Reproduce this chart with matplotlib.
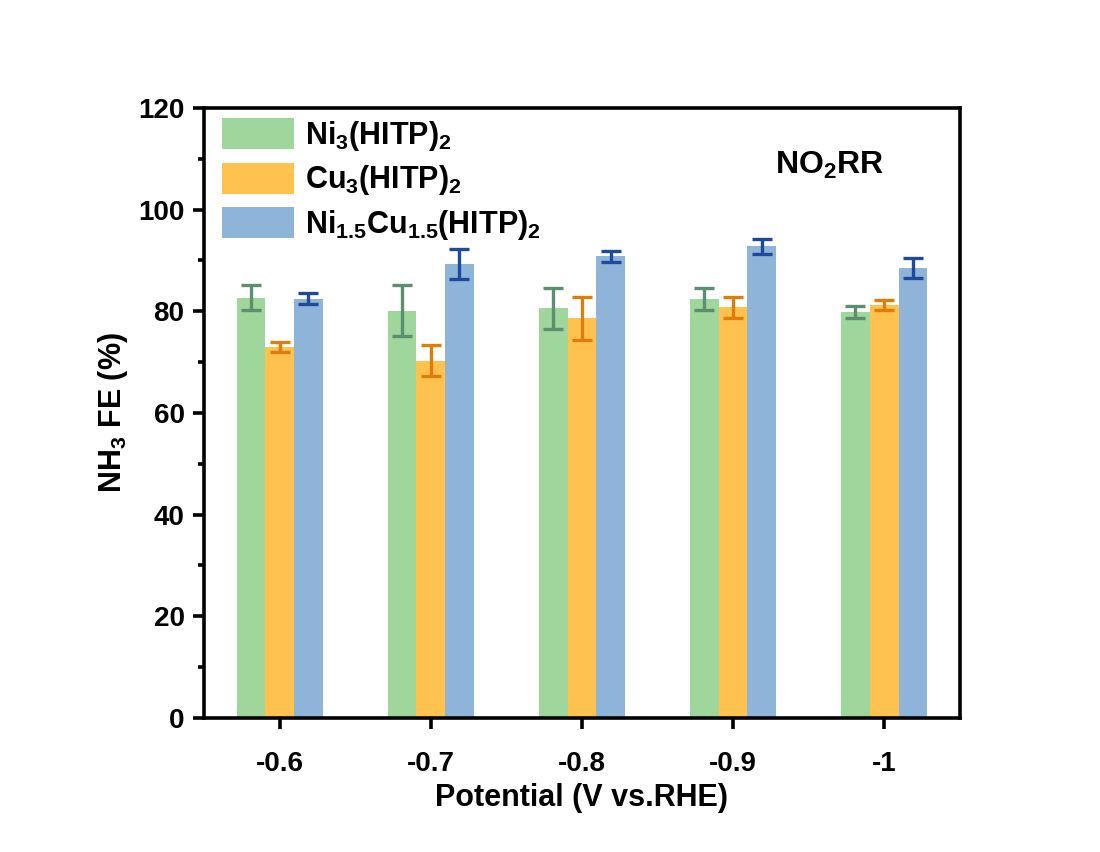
import numpy as np
import matplotlib
matplotlib.use("Agg")
import matplotlib.pyplot as plt

plt.rcParams['font.family'] = ['Liberation Sans', 'DejaVu Sans']
plt.rcParams['font.weight'] = 'bold'
plt.rcParams['mathtext.fontset'] = 'custom'
plt.rcParams['mathtext.rm'] = 'Liberation Sans:bold'
plt.rcParams['mathtext.default'] = 'rm'

# Données
potentials = ["-0.6", "-0.7", "-0.8", "-0.9", "-1"]
ni_fe = [82.7, 80.1, 80.6, 82.4, 79.8]
ni_err = [2.5, 5.0, 4.0, 2.1, 1.2]
cu_fe = [72.9, 70.3, 78.6, 80.8, 81.2]
cu_err = [1.0, 3.0, 4.2, 2.1, 1.0]
nicu_fe = [82.5, 89.3, 90.8, 92.8, 88.5]
nicu_err = [1.0, 2.9, 1.1, 1.5, 2.0]

labels = ["Ni$_3$(HITP)$_2$", "Cu$_3$(HITP)$_2$", "Ni$_{1.5}$Cu$_{1.5}$(HITP)$_2$"]
bar_colors = ["#9fd69c", "#ffc24f", "#8fb4da"]
err_colors = ["#5b8f6f", "#e07d0a", "#1f4a9c"]

fig = plt.figure(figsize=(11, 8.52), dpi=100)
ax = fig.add_axes([0.1855, 0.1573, 0.687, 0.716])

x = np.arange(len(potentials))
w = 0.19
series = [(ni_fe, ni_err), (cu_fe, cu_err), (nicu_fe, nicu_err)]
for i, (vals, errs) in enumerate(series):
    pos = x + (i - 1) * w
    ax.bar(pos, vals, width=w, color=bar_colors[i], label=labels[i], zorder=2)
    ax.errorbar(pos, vals, yerr=errs, fmt='none', ecolor=err_colors[i],
                elinewidth=2.4, capsize=7, capthick=2.4, zorder=3)

ax.set_xlim(-0.5, 4.5)
ax.set_ylim(0, 120)
ax.set_xticks(x)
ax.set_xticklabels(potentials)
ax.set_yticks(np.arange(0, 121, 20))
ax.set_yticks(np.arange(10, 120, 20), minor=True)

for s in ax.spines.values():
    s.set_linewidth(2.6)
ax.tick_params(axis='both', which='major', direction='out', length=8, width=2.6,
               labelsize=20, pad=6)
ax.tick_params(axis='y', which='minor', direction='out', length=4.5, width=2.6)
ax.tick_params(axis='x', which='major', pad=16)

ax.set_xlabel("Potential (V vs.RHE)", fontsize=22, fontweight='bold', labelpad=4)
ax.set_ylabel("NH$_3$ FE (%)", fontsize=22, fontweight='bold', labelpad=6)

ax.text(0.828, 0.905, "NO$_2$RR", transform=ax.transAxes, fontsize=23,
        fontweight='bold', ha='center', va='center')

ax.legend(loc='upper left', bbox_to_anchor=(0.0, 1.014), frameon=False,
          fontsize=22, handlelength=2.35, handleheight=1.18, handletextpad=0.35,
          labelspacing=0.33, borderaxespad=0.2)

fig.savefig("out.png", dpi=100)
